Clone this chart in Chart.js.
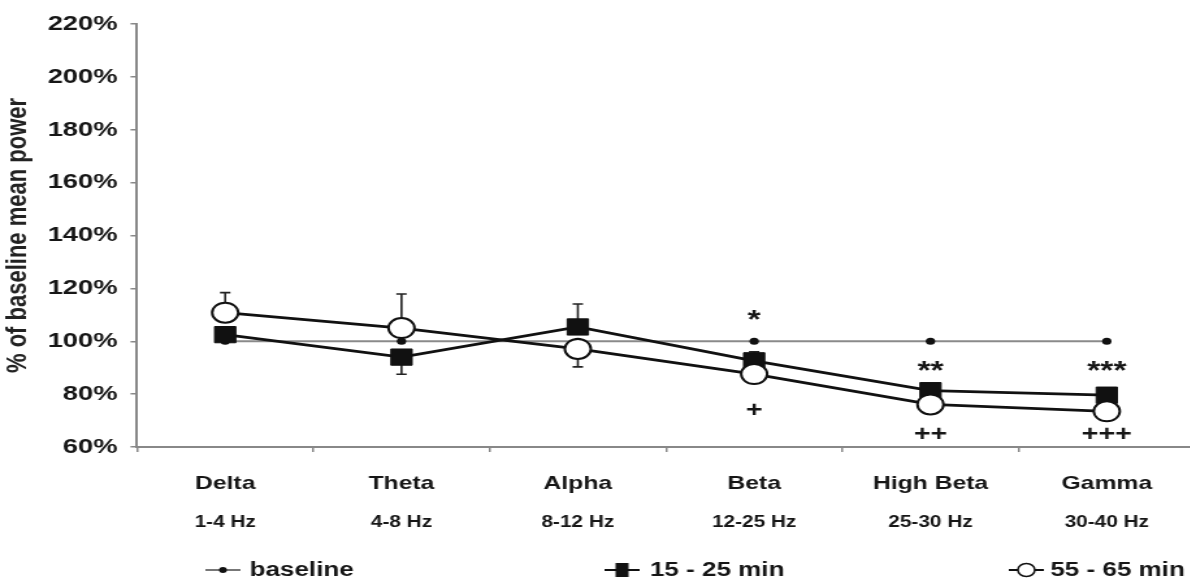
<!DOCTYPE html>
<html><head><meta charset="utf-8">
<script src="https://cdn.jsdelivr.net/npm/chart.js@4.4.1/dist/chart.umd.min.js"></script>
<style>html,body{margin:0;padding:0;background:#fff;overflow:hidden;width:1190px;height:584px}</style></head>
<body><canvas id="c" width="920" height="584" style="display:block;width:1196px;height:584px"></canvas>
<script>
// ---- data ----
const bands = ['Delta', 'Theta', 'Alpha', 'Beta', 'High Beta', 'Gamma'];
const bandRanges = ['1-4 Hz', '4-8 Hz', '8-12 Hz', '12-25 Hz', '25-30 Hz', '30-40 Hz'];
const yTicks = [60, 80, 100, 120, 140, 160, 180, 200, 220];
const baseline = [100, 100, 100, 100, 100, 100];
const sq15 = [102.5, 94.0, 105.4, 92.6, 81.3, 79.6];
const sq15ErrHi = [null, null, 114.1, 96.0, null, null];
const sq15ErrLo = [null, 87.5, null, null, null, null];
const circ55 = [110.8, 105.0, 97.1, 87.6, 76.1, 73.5];
const circ55ErrHi = [118.4, 117.9, null, null, null, null];
const circ55ErrLo = [null, null, 90.3, null, null, null];
const sigAbove = ['', '', '', '*', '**', '***'];
const sigAboveAt = [null, null, null, 110, 90.6, 90.6];
const sigBelow = ['', '', '', '+', '++', '+++'];
const sigBelowAt = [null, null, null, 73.8, 64.5, 64.5];
const seriesLabels = ['baseline', '15 - 25 min', '55 - 65 min'];

const FONT = '"Liberation Sans", Arial, Helvetica, sans-serif';
const TXT = '#161616';

const custom = {
  id: 'custom',
  beforeDatasetsDraw(chart) {
    const {ctx, scales: {x, y}} = chart;
    ctx.save();
    ctx.strokeStyle = '#222';
    ctx.lineWidth = 1.6;
    const sets = [[circ55, circ55ErrHi], [circ55, circ55ErrLo], [sq15, sq15ErrHi], [sq15, sq15ErrLo]];
    sets.forEach(([vals, errs]) => errs.forEach((e, i) => {
      if (e == null) return;
      const px = x.getPixelForValue(i), p0 = y.getPixelForValue(vals[i]), p1 = y.getPixelForValue(e);
      ctx.beginPath();
      ctx.moveTo(px, p0); ctx.lineTo(px, p1);
      ctx.moveTo(px - 4, p1); ctx.lineTo(px + 4, p1);
      ctx.stroke();
    }));
    ctx.restore();
  },
  afterDraw(chart) {
    const {ctx, scales: {x, y}} = chart;
    ctx.save();
    ctx.fillStyle = TXT;
    ctx.textAlign = 'center';
    ctx.textBaseline = 'middle';
    // x labels
    bands.forEach((b, i) => {
      const px = x.getPixelForValue(i);
      ctx.font = 'bold 19px ' + FONT;
      ctx.fillText(b, px, 484);
      ctx.font = 'bold 16px ' + FONT;
      ctx.fillText(bandRanges[i], px, 523);
    });
    // significance marks
    sigAbove.forEach((s, i) => {
      if (!s) return;
      ctx.font = 'bold 26px ' + FONT;
      ctx.fillText(s, x.getPixelForValue(i), y.getPixelForValue(sigAboveAt[i]) + 6);
    });
    sigBelow.forEach((s, i) => {
      if (!s) return;
      ctx.font = 'bold 22px ' + FONT;
      ctx.fillText(s, x.getPixelForValue(i), y.getPixelForValue(sigBelowAt[i]));
    });
    // legend
    const ly = 570;
    const items = [
      {x0: 158, x1: 185, tx: 192, ds: chart.data.datasets[2], kind: 'dot'},
      {x0: 465, x1: 492, tx: 500, ds: chart.data.datasets[1], kind: 'rect'},
      {x0: 776, x1: 803, tx: 808, ds: chart.data.datasets[0], kind: 'circle'}
    ];
    items.forEach(it => {
      ctx.strokeStyle = it.kind === 'dot' ? '#777' : '#111';
      ctx.lineWidth = 2;
      ctx.beginPath(); ctx.moveTo(it.x0, ly); ctx.lineTo(it.x1, ly); ctx.stroke();
      const cx = (it.x0 + it.x1) / 2;
      if (it.kind === 'dot') {
        ctx.fillStyle = '#111';
        ctx.beginPath(); ctx.arc(cx, ly, 3, 0, Math.PI * 2); ctx.fill();
      } else if (it.kind === 'rect') {
        ctx.fillStyle = '#111';
        ctx.fillRect(cx - 5, ly - 7, 10, 14);
      } else {
        ctx.fillStyle = '#fff';
        ctx.lineWidth = 1.5;
        ctx.beginPath(); ctx.arc(cx, ly, 6.5, 0, Math.PI * 2); ctx.fill(); ctx.stroke();
      }
      ctx.fillStyle = TXT;
      ctx.textAlign = 'left';
      ctx.font = 'bold 20px ' + FONT;
      ctx.fillText(it.ds.label, it.tx, ly);
    });
    ctx.restore();
  }
};

new Chart(document.getElementById('c'), {
  type: 'line',
  data: {
    labels: bands,
    datasets: [
      {label: seriesLabels[2], data: circ55, borderColor: '#111', borderWidth: 2.8,
       pointStyle: 'circle', pointRadius: 10, pointBorderWidth: 2, pointBackgroundColor: '#fff', pointBorderColor: '#111'},
      {label: seriesLabels[1], data: sq15, borderColor: '#111', borderWidth: 2.8,
       pointStyle: 'rect', pointRadius: 11.5, pointBorderWidth: 1, pointBackgroundColor: '#111', pointBorderColor: '#111'},
      {label: seriesLabels[0], data: baseline, borderColor: '#8a8a8a', borderWidth: 2,
       pointStyle: 'circle', pointRadius: 3.6, pointBorderWidth: 0, pointBackgroundColor: '#111', pointBorderColor: '#111'}
    ]
  },
  options: {
    responsive: false,
    maintainAspectRatio: false,
    animation: false,
    devicePixelRatio: 1,
    events: [],
    layout: {autoPadding: false, padding: {top: 24, right: 0.8, bottom: 0, left: 0}},
    plugins: {legend: {display: false}, tooltip: {enabled: false}},
    scales: {
      x: {
        type: 'category',
        offset: true,
        grid: {display: true, drawOnChartArea: false, offset: true, tickLength: 5, color: '#888', lineWidth: 1.5},
        border: {display: true, color: '#888', width: 2},
        ticks: {display: false},
        afterFit(s) { s.height = 137; }
      },
      y: {
        min: 60, max: 220,
        afterBuildTicks(s) { s.ticks = yTicks.map(v => ({value: v})); },
        grid: {display: true, drawOnChartArea: false, tickLength: 5, color: '#888', lineWidth: 1.5},
        border: {display: true, color: '#888', width: 2},
        ticks: {
          padding: 10,
          color: TXT,
          font: {family: FONT, size: 21, weight: 'bold'},
          callback: v => v + '%'
        },
        title: {
          display: true,
          text: '% of baseline mean power',
          color: '#222',
          font: {family: FONT, size: 22, weight: 'bold'},
          padding: {top: 1, bottom: 0}
        },
        afterFit(s) { s.width = 105.4; }
      }
    }
  },
  plugins: [custom]
});
</script></body></html>
